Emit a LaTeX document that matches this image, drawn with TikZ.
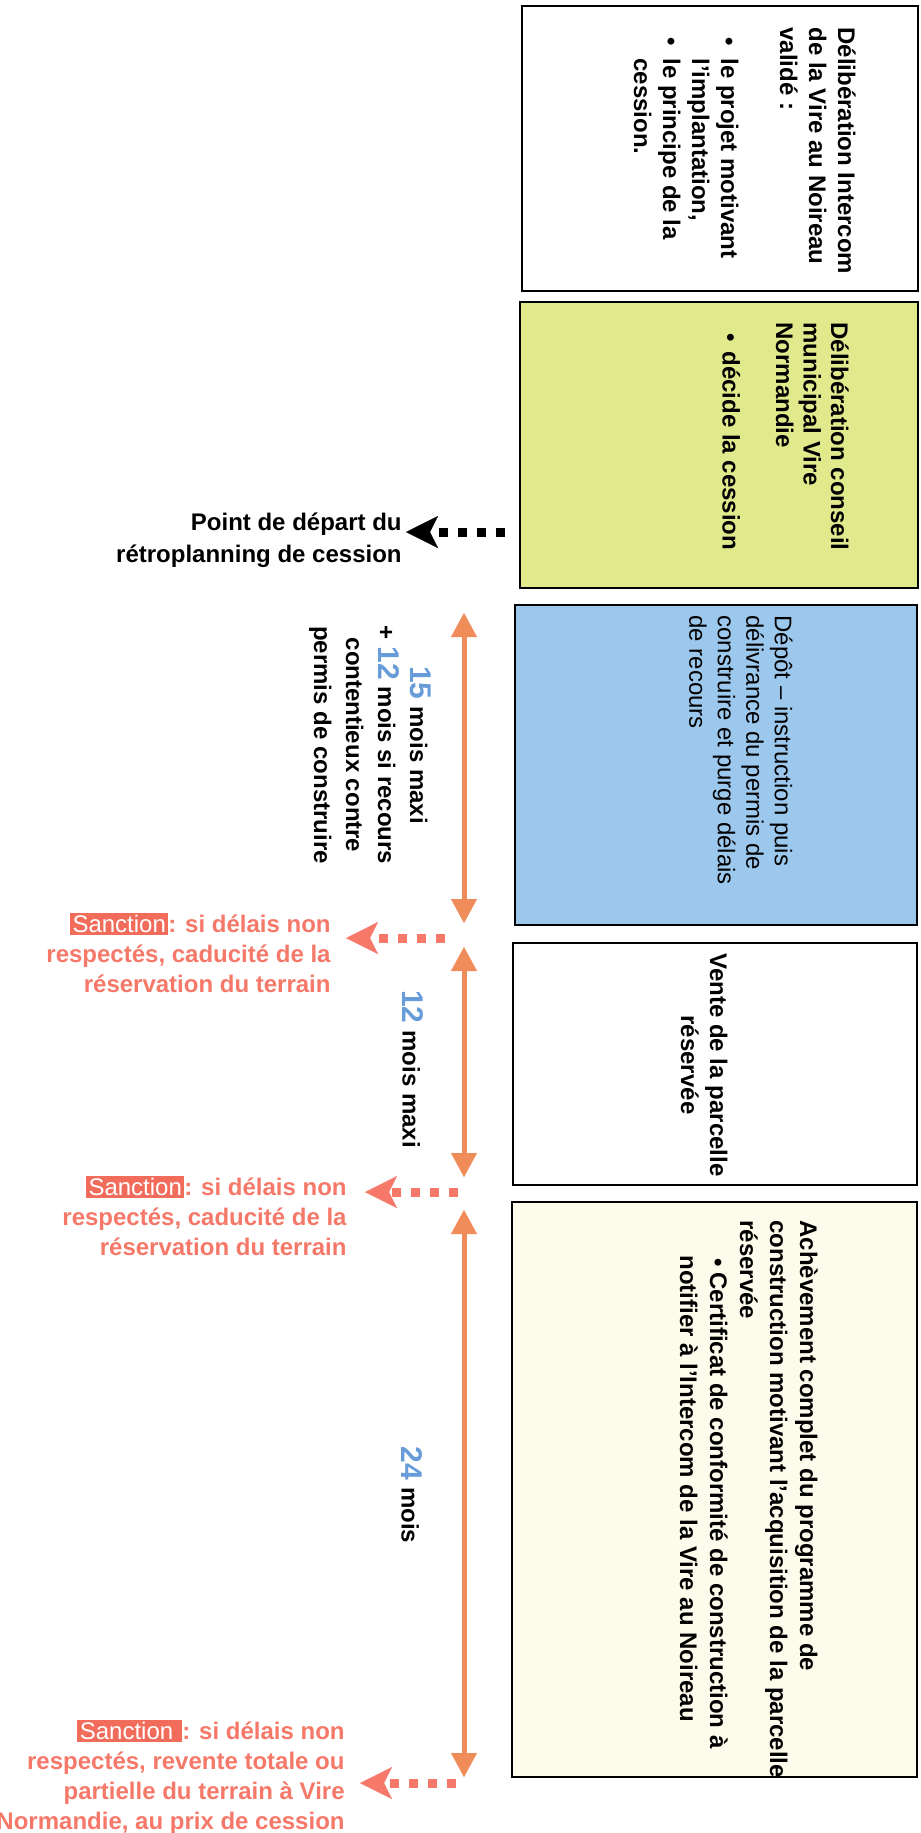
\documentclass[tikz,border=0pt]{standalone}
\usepackage{fontspec}
\setmainfont{Liberation Sans}
\usepackage{xcolor}
\usetikzlibrary{arrows.meta}

\definecolor{axeorange}{RGB}{240,140,90}
\definecolor{sancred}{RGB}{245,120,105}
\definecolor{sancbg}{RGB}{242,108,92}
\definecolor{moisblue}{RGB}{104,156,216}
\definecolor{vertjaune}{RGB}{224,234,140}
\definecolor{bleuclair}{RGB}{157,200,238}
\definecolor{creme}{RGB}{253,252,236}

\newcommand{\sanc}[1]{{\setlength{\fboxsep}{1.2pt}\colorbox{sancbg}{\mdseries\color{white}#1}}}
\newcommand{\nb}[1]{{\color{moisblue}\fontsize{15}{15}\selectfont #1}}
\newcommand{\puce}[2]{\makebox[#1][l]{\hspace*{#2}\textbullet}}

\tikzset{
  etape/.style={draw, line width=1.1pt, inner sep=0pt},
  boxtxt/.style={rotate=-90, anchor=north west, align=left, inner sep=0pt,
    font=\bfseries\fontsize{12}{14.5}\selectfont},
  lbl/.style={align=right, anchor=east, inner sep=0pt,
    font=\bfseries\fontsize{12}{15}\selectfont},
  duree/.style={rotate=-90, align=center, inner sep=0pt,
    font=\bfseries\fontsize{12}{16}\selectfont},
  axe/.style={draw=axeorange, line width=2.5pt,
    {Triangle[width=13pt,length=12pt,line width=0.1pt]}-{Triangle[width=13pt,length=12pt,line width=0.1pt]}},
  pointille/.style={line width=4.5pt, dash pattern=on 4.5pt off 5pt,
    -{Stealth[length=16pt,width=16pt,inset=4pt,line width=0.1pt]}},
}

\begin{document}
\begin{tikzpicture}[x=0.5pt,y=-0.5pt]
  \useasboundingbox (0,0) rectangle (921,1833);
  \clip (0,0) rectangle (921,1833);

  % boites du retroplanning
  \node[etape, minimum width=198pt, minimum height=142.5pt] (b1) at (720,148.5) {};
  \node[etape, fill=vertjaune, minimum width=199pt, minimum height=143pt] (b2) at (719,445) {};
  \node[etape, fill=bleuclair, minimum width=201pt, minimum height=160pt] (b3) at (716,765) {};
  \node[etape, minimum width=202pt, minimum height=121pt] (b4) at (715,1064) {};
  \node[etape, fill=creme, minimum width=202.5pt, minimum height=287.5pt] (b5) at (714.5,1489.5) {};

  \node[boxtxt] (t1) at (856,27) {Délibération Intercom\\ de la Vire au Noireau\\ validé :\\[15pt]
    \puce{15.5pt}{5pt}le projet motivant\\ \hspace*{15.5pt}l'implantation,\\
    \puce{15.5pt}{5pt}le principe de la\\ \hspace*{15.5pt}cession.};
  \node[boxtxt, font=\bfseries\fontsize{12}{13.75}\selectfont] (t2) at (849,322) {Délibération conseil\\ municipal Vire\\ Normandie\\[13pt]
    \puce{14.5pt}{5.5pt}décide la cession};
  \node[boxtxt, font=\mdseries\fontsize{12}{14.25}\selectfont] (t3) at (793,615) {Dépôt -- instruction puis\\ délivrance du permis de\\ construire et purge délais\\ de recours};
  \node[boxtxt, anchor=north, align=center] (t4) at (728,1065) {Vente de la parcelle\\ réservée};
  \node[boxtxt, font=\bfseries\fontsize{12}{15}\selectfont] (t5) at (818,1220) {Achèvement complet du programme de\\ construction motivant l'acquisition de la parcelle\\ réservée\\
    \puce{26pt}{19pt}Certificat de conformité de construction à\\ \hspace*{17.5pt}notifier à l'Intercom de la Vire au Noireau};

  % durees
  \coordinate (a0) at (464,613);
  \coordinate (a1) at (464,923);
  \coordinate (a2) at (464,947);
  \coordinate (a3) at (464,1177);
  \coordinate (a4) at (464,1210);
  \coordinate (a5) at (464,1777);
  \draw[axe] (a0) -- (a1);
  \draw[axe] (a2) -- (a3);
  \draw[axe] (a4) -- (a5);

  \node[duree] (d1) at (370,745) {\nb{15} mois maxi\\ + \nb{12} mois si recours\\ contentieux contre\\ permis de construire};
  \node[duree] (d2) at (413,1069) {\nb{12} mois maxi};
  \node[duree] (d3) at (412,1495) {\nb{24} mois};

  % jalons et sanctions
  \node[lbl, font=\bfseries\fontsize{12}{16}\selectfont] (depart) at (402,540) {Point de départ du\\ rétroplanning de cession};
  \node[lbl, text=sancred] (sanc1) at (331,953) {\sanc{Sanction}: si délais non\\ respectés, caducité de la\\ réservation du terrain};
  \node[lbl, text=sancred] (sanc2) at (347,1216) {\sanc{Sanction}: si délais non\\ respectés, caducité de la\\ réservation du terrain};
  \node[lbl, text=sancred] (sanc3) at (345,1777) {\sanc{Sanction }: si délais non\\ respectés, revente totale ou\\ partielle du terrain à Vire\\ Normandie, au prix de cession};

  \coordinate (p0) at (505,532);
  \coordinate (q0) at (406,532);
  \coordinate (p1) at (445,938);
  \coordinate (q1) at (346,938);
  \coordinate (p2) at (458,1192);
  \coordinate (q2) at (365,1192);
  \coordinate (p3) at (456,1783);
  \coordinate (q3) at (360,1783);
  \draw[pointille] (p0) -- (q0);
  \draw[pointille, sancred] (p1) -- (q1);
  \draw[pointille, sancred] (p2) -- (q2);
  \draw[pointille, sancred] (p3) -- (q3);
\end{tikzpicture}
\end{document}
